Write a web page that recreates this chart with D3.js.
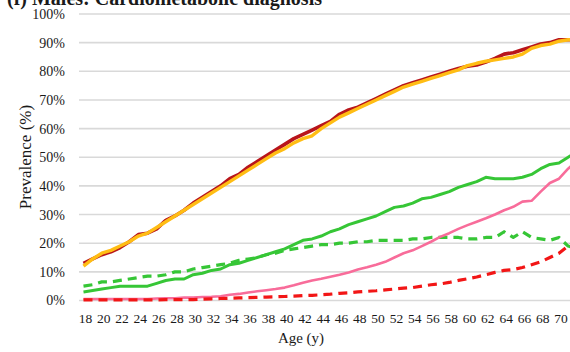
<!DOCTYPE html>
<html>
<head>
<meta charset="utf-8">
<script src="https://cdn.jsdelivr.net/npm/d3@7"></script>
<style>
  html, body { margin: 0; padding: 0; background: #fff; }
  svg { display: block; }
  text { font-family: "Liberation Serif", "Times New Roman", serif; fill: #1a1a1a; }
</style>
</head>
<body>
<svg id="chart" width="570" height="352"></svg>
<script>
// Prevalence (%) of cardiometabolic diagnoses among males by single year of age
const ages = [18,19,20,21,22,23,24,25,26,27,28,29,30,31,32,33,34,35,36,37,38,39,40,41,42,43,44,45,
  46,47,48,49,50,51,52,53,54,55,56,57,58,59,60,61,62,63,64,65,66,67,68,69,70,71,72];

const anyDarkRed = [13,14.5,16,17,18.5,20.5,23,23.5,25,28,29.5,31.5,34,36,38,40,42.5,44,46.5,48.5,50.5,52.5,
  54.5,56.5,58,59.5,61,62.5,65,66.5,67.5,69,70.5,72,73.5,75,76,77,78,79,80,81,81.8,82.2,83.2,84.5,86,86.5,87.5,
  88.5,89.5,90,91,91,91];
const anyGold = [12,14.5,16.5,17.5,19,20.5,22.5,23.5,25.5,27.5,29.5,31.5,33.5,35.5,37.5,39.5,41.5,43.5,45.5,
  47.5,49.5,51.5,53,55,56.5,57.5,60,62,64,65.5,67,68.5,70,71.5,73,74.5,75.5,76.5,77.5,78.5,79.5,80.5,82,82.8,
  83.5,84,84.5,85,86,88,89,89.5,90.5,91,91];
const greenSolid = [3,3.5,4,4.5,5,5,5,5,6,7,7.5,7.5,9,9.5,10.5,11,12.5,13,14,15,16,17,18,19.5,21,21.5,22.5,
  24,25,26.5,27.5,28.5,29.5,31,32.5,33,34,35.5,36,37,38,39.5,40.5,41.5,43,42.5,42.5,42.5,43,44,46,47.5,48,50,52];
const greenDashed = [5,5.5,6.5,6.5,7,7.5,8,8.5,8.5,9,10,10,11,11.5,12,12.5,13,14,14.5,15,16,16.5,17.5,18,18.5,
  19,19.5,19.5,20,20,20.5,20.5,21,21,21,21,21.5,21.5,22,22,22,22,21.5,21.5,22,22,24,22,24,22,21.5,21,22,19,18];
const pinkSolid = [0.5,0.5,0.5,0.5,0.5,0.5,0.5,0.5,0.7,0.8,0.8,1,1,1.2,1.3,1.5,2,2.3,2.8,3.2,3.6,4,4.5,5.3,6.2,
  7,7.6,8.3,9,9.8,10.8,11.6,12.5,13.5,15,16.5,17.5,19,20.5,22.2,23.5,25,26.3,27.5,28.7,30,31.5,32.7,34.5,34.8,
  38,41,42.5,46,49];
const redDashed = [0.2,0.2,0.2,0.2,0.2,0.2,0.2,0.2,0.2,0.3,0.3,0.3,0.3,0.5,0.6,0.7,0.8,0.9,1,1.1,1.2,1.3,1.4,
  1.5,1.7,1.8,2,2.2,2.5,2.7,3,3.2,3.4,3.7,4,4.3,4.5,5,5.5,5.8,6.3,7,7.6,8.2,9,9.8,10.5,10.8,11.5,12.5,13.5,15,
  16.5,19,21];

const xTickAges = [18,20,22,24,26,28,30,32,34,36,38,40,42,44,46,48,50,52,54,56,58,60,62,64,66,68,70];
const yTicks = [0,10,20,30,40,50,60,70,80,90,100];

const series = [
  { values: anyDarkRed, color: "#b8151b", width: 3.6, dash: null },
  { values: anyGold, color: "#ffbd14", width: 3.4, dash: null },
  { values: greenSolid, color: "#36c636", width: 3, dash: null },
  { values: greenDashed, color: "#36c636", width: 3.2, dash: "9,6" },
  { values: pinkSolid, color: "#f86c9a", width: 2.6, dash: null },
  { values: redDashed, color: "#f21616", width: 3.2, dash: "9,6" }
];

const svg = d3.select("#chart");
const W = 570, H = 352;

const x = d3.scaleLinear().domain([18, 70]).range([83.5, 559]);
const y = d3.scaleLinear().domain([0, 100]).range([300.5, 14]);

// chart title (runs off the top edge)
svg.append("text")
  .attr("x", 7).attr("y", 5)
  .style("font-size", "20px").style("font-weight", "bold")
  .text("(f) Males: Cardiometabolic diagnosis");

// horizontal gridlines
svg.append("g").selectAll("line").data(yTicks).join("line")
  .attr("x1", 79).attr("x2", W + 5)
  .attr("y1", d => y(d)).attr("y2", d => y(d))
  .attr("stroke", "#d9d9d9").attr("stroke-width", 1.6);

// y axis labels
const yAxis = d3.axisLeft(y).tickValues(yTicks).tickFormat(d => d + "%").tickSize(0).tickPadding(0);
svg.append("g").attr("transform", "translate(65,0)").call(yAxis)
  .call(g => g.select(".domain").remove())
  .call(g => g.selectAll("text")
    .style("font-family", "Liberation Serif, serif").style("font-size", "14px").attr("fill", "#1a1a1a"));

// x axis labels
const xAxis = d3.axisBottom(x).tickValues(xTickAges).tickFormat(d3.format("d")).tickSize(0).tickPadding(0);
svg.append("g").attr("transform", "translate(1.5,313)").call(xAxis)
  .call(g => g.select(".domain").remove())
  .call(g => g.selectAll("text")
    .style("font-family", "Liberation Serif, serif").style("font-size", "13.5px").attr("fill", "#1a1a1a"));

// axis titles
svg.append("text")
  .attr("transform", "translate(31,157) rotate(-90)")
  .attr("text-anchor", "middle")
  .style("font-size", "17px")
  .text("Prevalence (%)");

svg.append("text")
  .attr("x", 301).attr("y", 343)
  .attr("text-anchor", "middle")
  .style("font-size", "15px")
  .text("Age (y)");

// series lines
const line = d3.line().x((d, i) => x(ages[i])).y(d => y(d));
svg.append("g").selectAll("path").data(series).join("path")
  .attr("d", d => line(d.values))
  .attr("fill", "none")
  .attr("stroke", d => d.color)
  .attr("stroke-width", d => d.width)
  .attr("stroke-dasharray", d => d.dash)
  .attr("stroke-linejoin", "round");
</script>
</body>
</html>
